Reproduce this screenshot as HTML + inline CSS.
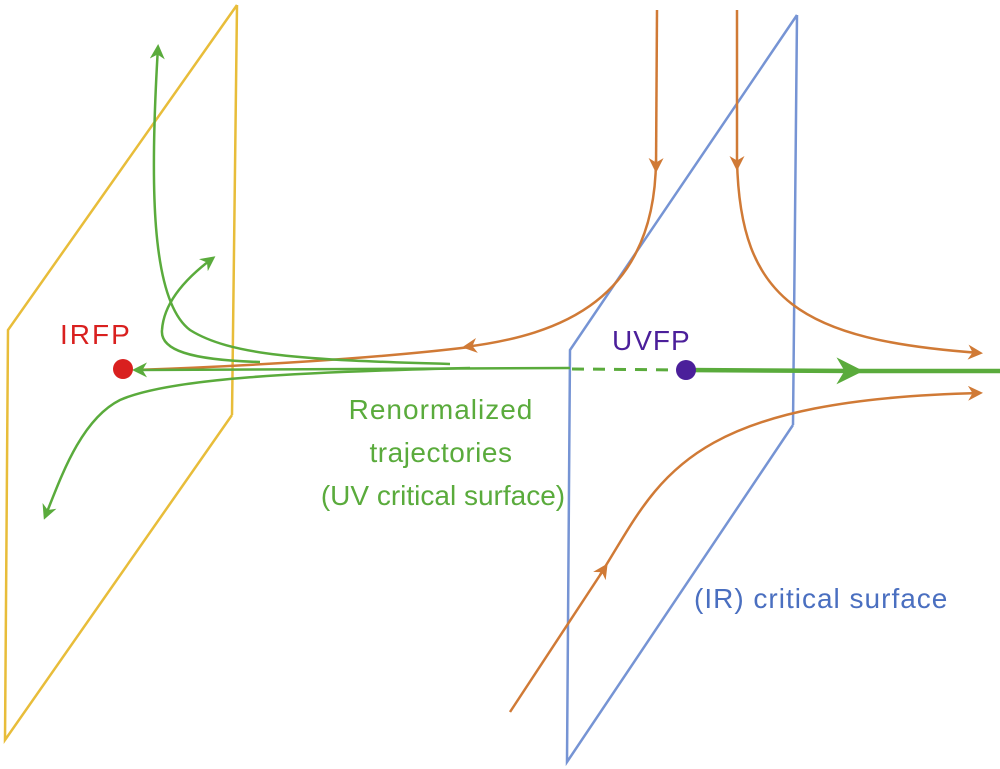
<!DOCTYPE html>
<html><head><style>
body{margin:0;background:#fff;}
svg{display:block;}
text{font-family:"Liberation Sans",sans-serif;}
</style></head><body>
<svg width="1000" height="769" viewBox="0 0 1000 769" xmlns="http://www.w3.org/2000/svg">
<defs>
<marker id="ag" viewBox="0 0 10 10" refX="8" refY="5" markerWidth="6" markerHeight="6" orient="auto"><path d="M0,0 L10,5 L0,10 L3,5z" fill="#5aab3c"/></marker>
<marker id="ao" viewBox="0 0 10 10" refX="8" refY="5" markerWidth="6" markerHeight="6" orient="auto"><path d="M0,0 L10,5 L0,10 L3,5z" fill="#d07a36"/></marker>
</defs>
<g fill="none" stroke="#e8bd3a" stroke-width="2.5">
<path d="M237,5 L232,415 M237,5 L8,330 L5,740 L232,415"/>
</g>
<g fill="none" stroke="#7694d4" stroke-width="2.5">
<path d="M797,15 L793,425 M797,15 L570,350 L567,762 L793,425"/>
</g>
<g fill="none" stroke="#d07a36" stroke-width="2.5">
<path d="M657,10 L656,170" marker-end="url(#ao)"/>
<path d="M656,160 C655,300 560,335 465,347" marker-end="url(#ao)"/>
<path d="M470,347 C380,358 250,366 135,370"/>
<path d="M737,10 L737,168" marker-end="url(#ao)"/>
<path d="M737,160 C740,300 800,340 980,353" marker-end="url(#ao)"/>
<path d="M510,712 L606,566" marker-end="url(#ao)"/>
<path d="M600,575 C660,480 680,400 980,393" marker-end="url(#ao)"/>
</g>
<g fill="none" stroke="#5aab3c" stroke-width="2.5">
<path d="M450,364 C300,360 230,355 190,330 C150,300 150,180 158,47" marker-end="url(#ag)"/>
<path d="M260,362 C190,360 160,350 162,330 C164,300 190,275 213,258" marker-end="url(#ag)"/>
<path d="M470,368 C300,372 170,378 120,400 C80,420 60,480 45,517" marker-end="url(#ag)"/>
<path d="M570,368 L135,370" marker-end="url(#ag)"/>
<path d="M572,369 L685,370" stroke-dasharray="12,9" stroke-width="3"/>
<path d="M685,370 L858,371" stroke-width="4.5" marker-end="url(#ag)"/>
<path d="M850,371 L1000,371" stroke-width="4.5"/>
</g>
<circle cx="123" cy="369" r="10" fill="#d9201f"/>
<circle cx="686" cy="370" r="10" fill="#4b1f9a"/>
<text x="60" y="344" font-size="28" letter-spacing="2" fill="#d9201f">IRFP</text>
<text x="612" y="350" font-size="28" letter-spacing="1" fill="#4b1f9a">UVFP</text>
<g font-size="28" fill="#5aab3c" text-anchor="middle">
<text x="441" y="419" letter-spacing="1">Renormalized</text>
<text x="441" y="462" letter-spacing="0.5">trajectories</text>
<text x="443" y="505">(UV critical surface)</text>
</g>
<text x="694" y="608" font-size="28" letter-spacing="1" fill="#4a6fc0">(IR) critical surface</text>
</svg>
</body></html>
